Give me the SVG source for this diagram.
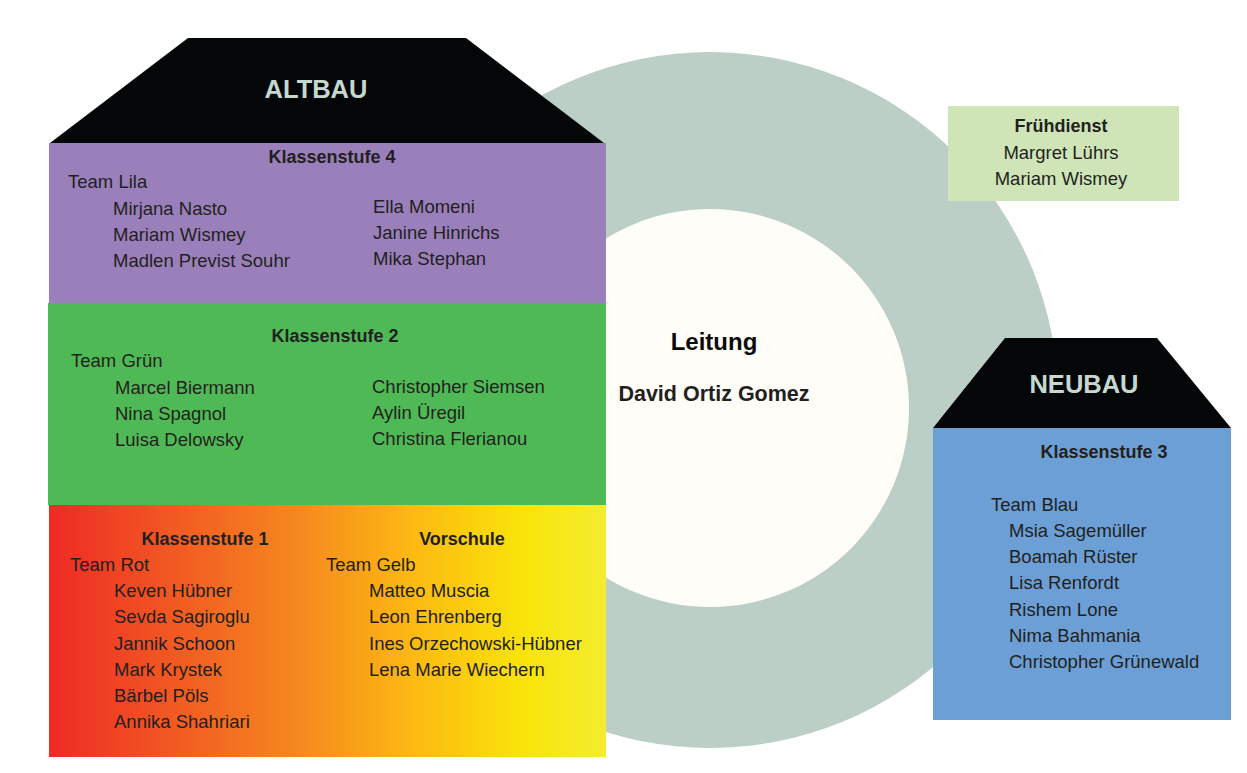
<svg xmlns="http://www.w3.org/2000/svg" width="1247" height="773" viewBox="0 0 1247 773">
<defs>
<linearGradient id="rotgelb" x1="0" y1="0" x2="1" y2="0">
<stop offset="0" stop-color="#ee2a25"/>
<stop offset="0.45" stop-color="#f5891f"/>
<stop offset="0.65" stop-color="#fdb813"/>
<stop offset="0.85" stop-color="#f8e409"/>
<stop offset="1" stop-color="#f4ec2e"/>
</linearGradient>
<style>
text{font-family:"Liberation Sans",Arial,sans-serif;fill:#231f20}
.n{font-size:18.5px}
.h{font-size:18px;font-weight:bold}
.t{font-size:25.5px;font-weight:bold;fill:#c5d8d0}
.roof{fill:#050608}
</style>
</defs>
<rect width="1247" height="773" fill="#ffffff"/>
<g id="leitung">
<circle cx="710" cy="400" r="348" fill="#bbcfc6"/>
<circle cx="710" cy="408" r="199" fill="#fefdf8"/>
<text x="714" y="350" text-anchor="middle" style="font-size:24px;font-weight:bold;fill:#0a0a0a">Leitung</text>
<text x="714" y="401" text-anchor="middle" style="font-size:21.5px;font-weight:bold">David Ortiz Gomez</text>
</g>
<g id="altbau">
<polygon class="roof" points="188,38 466,38 604,143 50,143"/>
<text class="t" x="316" y="98" text-anchor="middle">ALTBAU</text>
</g>
<g id="klasse4">
<rect x="49" y="143" width="557" height="160" fill="#9a80bb"/>
<text class="h" x="332" y="163" text-anchor="middle">Klassenstufe 4</text>
<text class="n" x="68" y="188">Team Lila</text>
<text class="n" x="113" y="215">Mirjana Nasto</text>
<text class="n" x="113" y="241">Mariam Wismey</text>
<text class="n" x="113" y="267">Madlen Previst Souhr</text>
<text class="n" x="373" y="213">Ella Momeni</text>
<text class="n" x="373" y="239">Janine Hinrichs</text>
<text class="n" x="373" y="265">Mika Stephan</text>
</g>
<g id="klasse2">
<rect x="48" y="303" width="558" height="202" fill="#4fba55"/>
<text class="h" x="335" y="342" text-anchor="middle">Klassenstufe 2</text>
<text class="n" x="71" y="367">Team Grün</text>
<text class="n" x="115" y="394">Marcel Biermann</text>
<text class="n" x="115" y="420">Nina Spagnol</text>
<text class="n" x="115" y="446">Luisa Delowsky</text>
<text class="n" x="372" y="393">Christopher Siemsen</text>
<text class="n" x="372" y="419">Aylin Üregil</text>
<text class="n" x="372" y="445">Christina Flerianou</text>
</g>
<g id="klasse1-vorschule">
<rect x="49" y="505" width="557" height="252" fill="url(#rotgelb)"/>
<text class="h" x="205" y="545" text-anchor="middle">Klassenstufe 1</text>
<text class="h" x="462" y="545" text-anchor="middle">Vorschule</text>
<text class="n" x="70" y="571">Team Rot</text>
<text class="n" x="114" y="597">Keven Hübner</text>
<text class="n" x="114" y="623">Sevda Sagiroglu</text>
<text class="n" x="114" y="650">Jannik Schoon</text>
<text class="n" x="114" y="676">Mark Krystek</text>
<text class="n" x="114" y="702">Bärbel Pöls</text>
<text class="n" x="114" y="728">Annika Shahriari</text>
<text class="n" x="326" y="571">Team Gelb</text>
<text class="n" x="369" y="597">Matteo Muscia</text>
<text class="n" x="369" y="623">Leon Ehrenberg</text>
<text class="n" x="369" y="650">Ines Orzechowski-Hübner</text>
<text class="n" x="369" y="676">Lena Marie Wiechern</text>
</g>
<g id="fruehdienst">
<rect x="948" y="106" width="231" height="95" fill="#cfe5b8"/>
<text class="h" x="1061" y="132" text-anchor="middle">Frühdienst</text>
<text class="n" x="1061" y="159" text-anchor="middle">Margret Lührs</text>
<text class="n" x="1061" y="185" text-anchor="middle">Mariam Wismey</text>
</g>
<g id="neubau">
<polygon class="roof" points="1005,338 1157,338 1231,428 933,428"/>
<text class="t" x="1084" y="393" text-anchor="middle">NEUBAU</text>
</g>
<g id="klasse3">
<rect x="933" y="428" width="298" height="292" fill="#6b9fd5"/>
<text class="h" x="1104" y="458" text-anchor="middle">Klassenstufe 3</text>
<text class="n" x="991" y="511">Team Blau</text>
<text class="n" x="1009" y="537">Msia Sagemüller</text>
<text class="n" x="1009" y="563">Boamah Rüster</text>
<text class="n" x="1009" y="589">Lisa Renfordt</text>
<text class="n" x="1009" y="616">Rishem Lone</text>
<text class="n" x="1009" y="642">Nima Bahmania</text>
<text class="n" x="1009" y="668">Christopher Grünewald</text>
</g>
<g id="connectors"/>
</svg>
